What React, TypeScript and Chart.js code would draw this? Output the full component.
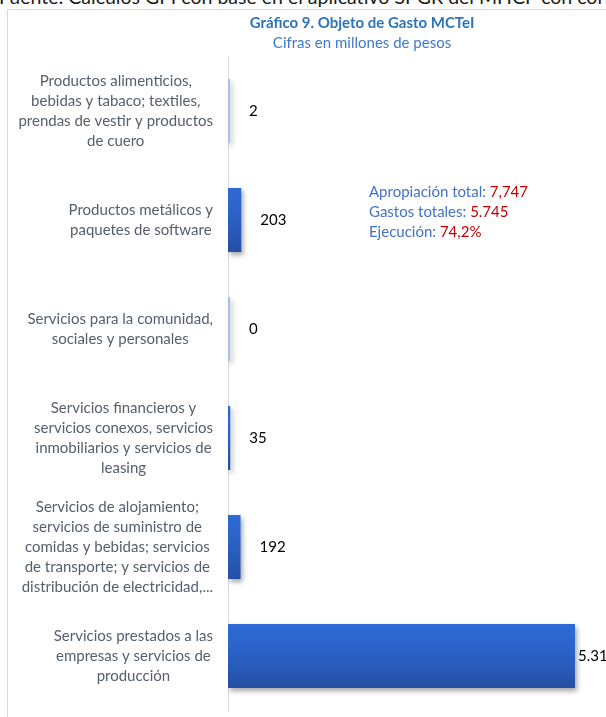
import React, { useEffect, useRef } from 'react';
import { Chart, registerables } from 'chart.js';

Chart.register(...registerables);

const categories: string[][] = [
  ['Productos alimenticios,', 'bebidas y tabaco; textiles,', 'prendas de vestir y productos', 'de cuero'],
  ['Productos metálicos y', 'paquetes de software'],
  ['Servicios para la comunidad,', 'sociales y personales'],
  ['Servicios financieros y', 'servicios conexos, servicios', 'inmobiliarios y servicios de', 'leasing'],
  ['Servicios de alojamiento;', 'servicios de suministro de', 'comidas y bebidas; servicios', 'de transporte; y servicios de', 'distribución de electricidad,...'],
  ['Servicios prestados a las', 'empresas y servicios de', 'producción'],
];
const values: number[] = [2, 203, 0, 35, 192, 5311];

const titleText = 'Gráfico 9. Objeto de Gasto MCTeI';
const subtitleText = 'Cifras en millones de pesos';
const noteLabels: string[] = ['Apropiación total: ', 'Gastos totales: ', 'Ejecución: '];
const noteValues: string[] = ['7,747', '5.745', '74,2%'];
const sourceText = 'Fuente: Cálculos GPI con base en el aplicativo SPGR del MHCP con corte a diciembre de 2020';

const FONT = 'Lato, "Open Sans", sans-serif';
const BAR_PCT = 0.587;

const fmt = (v: number) => v.toString().replace(/\B(?=(\d{3})+(?!\d))/g, '.');

const shadowPlugin = {
  id: 'barShadow',
  beforeDatasetDraw(chart: any) {
    const ctx = chart.ctx;
    ctx.save();
    ctx.shadowColor = 'rgba(0,0,0,0.35)';
    ctx.shadowBlur = 5;
    ctx.shadowOffsetX = 2;
    ctx.shadowOffsetY = 3;
  },
  afterDatasetDraw(chart: any) {
    chart.ctx.restore();
  },
};

const labelsPlugin = {
  id: 'extraText',
  afterDraw(chart: any) {
    const ctx = chart.ctx;
    const ys = chart.scales.y;
    const area = chart.chartArea;
    ctx.save();
    ctx.textBaseline = 'middle';
    // titles, centred on the whole chart box
    ctx.textAlign = 'center';
    ctx.font = `bold 15px ${FONT}`;
    ctx.fillStyle = '#2E74B5';
    ctx.fillText(titleText, chart.width / 2, 13);
    ctx.font = `15px ${FONT}`;
    ctx.fillStyle = '#3F7BC2';
    ctx.fillText(subtitleText, chart.width / 2, 33);
    // category labels: block right-aligned, lines centred within block
    ctx.font = `15px ${FONT}`;
    ctx.fillStyle = '#56606D';
    categories.forEach((lines, i) => {
      const yc = ys.getPixelForTick(i);
      const w = Math.max(...lines.map((l) => ctx.measureText(l).width));
      const cx = ys.right - 15 - w / 2;
      lines.forEach((l, j) => {
        ctx.fillText(l, cx, yc + (j - (lines.length - 1) / 2) * 20);
      });
    });
    // value labels
    const meta = chart.getDatasetMeta(0);
    ctx.fillStyle = '#000000';
    ctx.textAlign = 'left';
    meta.data.forEach((el: any, i: number) => {
      const end = Math.max(el.x, area.left);
      const off = end > area.right - 80 ? 3 : 19;
      ctx.fillText(fmt(values[i]), end + off, el.y);
    });
    // note
    const nx = area.left + 141;
    noteLabels.forEach((lab, i) => {
      const y = area.top + 135.5 + i * 20;
      ctx.fillStyle = '#4472C4';
      ctx.fillText(lab, nx, y);
      const w = ctx.measureText(lab).width;
      ctx.fillStyle = '#C00000';
      ctx.fillText(noteValues[i], nx + w, y);
    });
    ctx.restore();
  },
};

export default function App() {
  const ref = useRef<HTMLCanvasElement | null>(null);

  useEffect(() => {
    if (!ref.current) return;
    const chart = new Chart(ref.current, {
      type: 'bar',
      data: {
        labels: categories.map((c) => c.join(' ')),
        datasets: [
          {
            data: values,
            minBarLength: 2,
            barPercentage: BAR_PCT,
            categoryPercentage: 1,
            borderWidth: 0,
            backgroundColor: (c: any) => {
              const chart = c.chart;
              const v = values[c.dataIndex];
              if (v !== undefined && v < 10) return '#A9C0E8';
              const ys = chart.scales?.y;
              if (!ys || !chart.chartArea) return '#2A5FC0';
              const y = ys.getPixelForValue(c.dataIndex);
              const h = ((ys.bottom - ys.top) / values.length) * BAR_PCT;
              const g = chart.ctx.createLinearGradient(0, y - h / 2, 0, y + h / 2);
              g.addColorStop(0, '#2E6BD6');
              g.addColorStop(0.5, '#2A60C4');
              g.addColorStop(1, '#2450A3');
              return g;
            },
          },
        ],
      },
      options: {
        indexAxis: 'y',
        animation: false,
        responsive: false,
        devicePixelRatio: 1,
        layout: { padding: { left: 0, right: 96, top: 46.5, bottom: 19.5 } },
        scales: {
          x: { display: false, min: 0, max: 6000 },
          y: {
            display: true,
            grid: { display: false, drawTicks: false },
            border: { display: true, color: '#D9D9D9', width: 1 },
            ticks: { display: false },
            afterFit: (s: any) => {
              s.width = 220;
            },
          },
        },
        plugins: {
          legend: { display: false },
          tooltip: { enabled: false },
          title: { display: false },
          subtitle: { display: false },
        },
      },
      plugins: [shadowPlugin, labelsPlugin],
    });
    return () => chart.destroy();
  }, []);

  return (
    <div style={{ position: 'fixed', left: 0, top: 0, width: 606, height: 717, overflow: 'hidden', background: '#fff' }}>
      <div
        style={{
          position: 'absolute',
          left: -1,
          top: -13,
          whiteSpace: 'nowrap',
          fontFamily: FONT,
          fontSize: 19.5,
          lineHeight: '20px',
          color: '#1a1a1a',
        }}
      >
        {sourceText}
      </div>
      <div
        style={{
          position: 'absolute',
          left: 7,
          top: 9,
          width: 720,
          height: 760,
          borderLeft: '1px solid #D9D9D9',
          borderTop: '1px solid #D9D9D9',
          background: '#fff',
        }}
      >
        <canvas ref={ref} width={708} height={720} style={{ display: 'block', width: 708, height: 720 }} />
      </div>
    </div>
  );
}
